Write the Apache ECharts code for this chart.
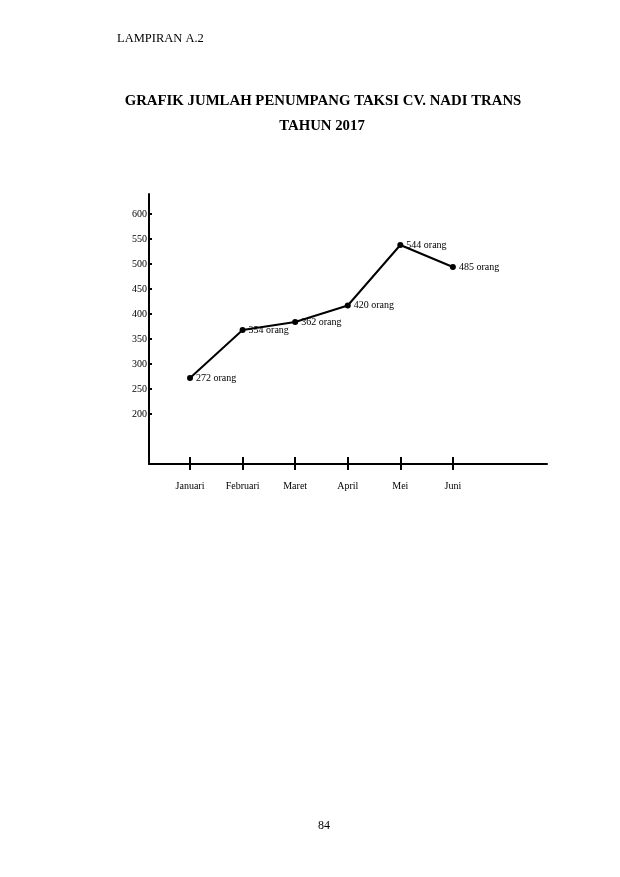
<!DOCTYPE html>
<html>
<head>
<meta charset="utf-8">
<script src="https://cdn.jsdelivr.net/npm/echarts@6/dist/echarts.min.js"></script>
<style>
html,body{margin:0;padding:0;background:#fff;}
#c{width:620px;height:877px;}
</style>
</head>
<body>
<div id="c"></div>
<script>
// Data
var months = ['Januari', 'Februari', 'Maret', 'April', 'Mei', 'Juni'];
var plotted = [272, 368, 384, 417, 538, 494];        // point heights as drawn
var labelTexts = ['272 orang', '354 orang', '362 orang', '420 orang', '544 orang', '485 orang'];
var yTicks = [200, 250, 300, 350, 400, 450, 500, 550, 600];
var monthIdx = [0, 1, 2, 3, 4, 5];

var FONT = '"Liberation Serif", "DejaVu Serif", serif';

var seriesData = months.map(function (m, i) {
  return {
    value: [monthIdx[i], plotted[i]],
    label: { formatter: labelTexts[i] }
  };
});

var xBase = {
  type: 'value',
  min: -0.78,
  max: 6.79,
  splitLine: { show: false }
};

var chart = echarts.init(document.getElementById('c'), null, { renderer: 'canvas' });
chart.setOption({
  backgroundColor: '#ffffff',
  animation: false,
  title: [
    { text: 'LAMPIRAN A.2', left: 117, top: 32, padding: 0,
      textStyle: { fontFamily: FONT, fontSize: 12.5, fontWeight: 'normal', color: '#000' } },
    { text: 'GRAFIK JUMLAH PENUMPANG TAKSI CV. NADI TRANS', left: 323, top: 94, padding: 0, textAlign: 'center',
      textStyle: { fontFamily: FONT, fontSize: 14.8, fontWeight: 'bold', color: '#000' } },
    { text: 'TAHUN 2017', left: 322, top: 119, padding: 0, textAlign: 'center',
      textStyle: { fontFamily: FONT, fontSize: 14.8, fontWeight: 'bold', color: '#000' } },
    { text: '84', left: 324, top: 820, padding: 0, textAlign: 'center',
      textStyle: { fontFamily: FONT, fontSize: 12, fontWeight: 'normal', color: '#000' } }
  ],
  grid: { left: 149, right: 73, top: 194, bottom: 413, containLabel: false },
  xAxis: [
    Object.assign({}, xBase, {
      position: 'bottom',
      axisLine: { show: true, onZero: false, lineStyle: { color: '#000', width: 2 } },
      axisTick: { show: true, inside: true, length: 7, customValues: monthIdx,
        lineStyle: { color: '#000', width: 2 } },
      axisLabel: { show: true, customValues: monthIdx, margin: 17,
        fontFamily: FONT, fontSize: 10, color: '#000',
        formatter: function (v) { return months[Math.round(v)] || ''; } }
    }),
    Object.assign({}, xBase, {
      position: 'bottom',
      axisLine: { show: false, onZero: false },
      axisTick: { show: true, inside: false, length: 6, customValues: monthIdx,
        lineStyle: { color: '#000', width: 2 } },
      axisLabel: { show: false }
    })
  ],
  yAxis: {
    type: 'value',
    min: 100,
    max: 640,
    splitLine: { show: false },
    axisLine: { show: true, onZero: false, lineStyle: { color: '#000', width: 2 } },
    axisTick: { show: true, inside: true, length: 3, customValues: yTicks,
      lineStyle: { color: '#000', width: 2 } },
    axisLabel: { show: true, customValues: yTicks, margin: 2,
      fontFamily: FONT, fontSize: 10, color: '#000' }
  },
  series: [{
    type: 'line',
    xAxisIndex: 0,
    data: seriesData,
    symbol: 'circle',
    symbolSize: 6,
    itemStyle: { color: '#000' },
    lineStyle: { color: '#000', width: 2 },
    label: { show: true, position: 'right', distance: 3,
      fontFamily: FONT, fontSize: 10, color: '#000' }
  }]
});
</script>
</body>
</html>
